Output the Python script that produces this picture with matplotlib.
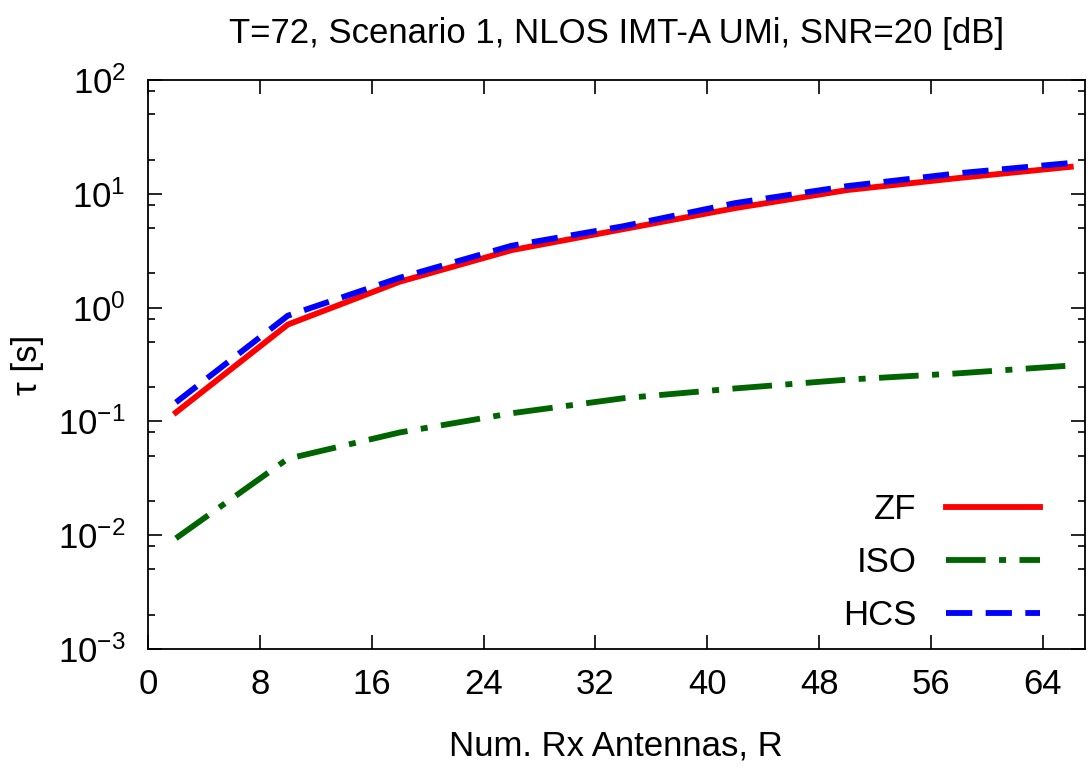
import numpy as np
import matplotlib
matplotlib.use("Agg")
import matplotlib.pyplot as plt
from matplotlib.ticker import FixedLocator, LogLocator, FuncFormatter, NullFormatter

plt.rcParams["font.family"] = ["Liberation Sans", "DejaVu Sans"]
plt.rcParams["mathtext.fontset"] = "custom"
plt.rcParams["mathtext.rm"] = "Liberation Sans"
plt.rcParams["mathtext.it"] = "Liberation Sans"

# tau [s] versus number of receive antennas
antennas = [2, 10, 18, 26, 34, 42, 50, 58, 66]
tau_zf = [0.12, 0.71, 1.69, 3.2, 4.9, 7.5, 10.8, 13.8, 17.3]
tau_iso = [0.0094, 0.047, 0.080, 0.118, 0.16, 0.195, 0.233, 0.265, 0.31]
tau_hcs = [0.147, 0.85, 1.83, 3.5, 5.2, 8.3, 11.7, 15.2, 18.7]
x_ticks = [0, 8, 16, 24, 32, 40, 48, 56, 64]

fs = 25

fig = plt.figure(figsize=(10.88, 7.74), dpi=100)
ax = fig.add_axes([0.136, 0.1615, 0.861, 0.735])

lw = 4.2
ax.plot(antennas, tau_zf, color="#ff0000", lw=lw, label="ZF")
ax.plot(antennas, tau_iso, color="#006400", lw=lw, label="ISO",
        dashes=(6.8, 2.3, 1.2, 2.3), dash_capstyle="butt")
ax.plot(antennas, tau_hcs, color="#0000ff", lw=lw, label="HCS",
        dashes=(4.5, 2.3), dash_capstyle="butt")

ax.set_yscale("log")
ax.set_xlim(0, 67)
ax.set_ylim(1e-3, 1e2)
ax.xaxis.set_major_locator(FixedLocator(x_ticks))
ax.yaxis.set_major_locator(LogLocator(base=10, numticks=10))
ax.yaxis.set_minor_locator(LogLocator(base=10, subs=[2, 5, 8], numticks=10))
ax.yaxis.set_minor_formatter(NullFormatter())
ax.yaxis.set_major_formatter(FuncFormatter(lambda v, p: r"$10^{%d}$" % round(np.log10(v))))

ax.tick_params(which="both", direction="in", top=True, right=True,
               labelsize=fs, width=1.2)
ax.tick_params(which="major", length=10)
ax.tick_params(which="minor", length=5)
ax.tick_params(axis="y", pad=16)
ax.tick_params(axis="x", pad=14)
for s in ax.spines.values():
    s.set_linewidth(1.3)

ax.set_title("T=72, Scenario 1, NLOS IMT-A UMi, SNR=20 [dB]", fontsize=fs, pad=27)
ax.set_xlabel("Num. Rx Antennas, R", fontsize=fs, labelpad=20)
ax.set_ylabel("τ [s]", fontsize=fs, labelpad=10)

ax.legend(loc="lower right", bbox_to_anchor=(0.952, 0.03), frameon=False,
          markerfirst=False, fontsize=fs, handlelength=2.7,
          handletextpad=0.85, labelspacing=0.58, borderpad=0, borderaxespad=0)

fig.savefig("out.png", dpi=100)
